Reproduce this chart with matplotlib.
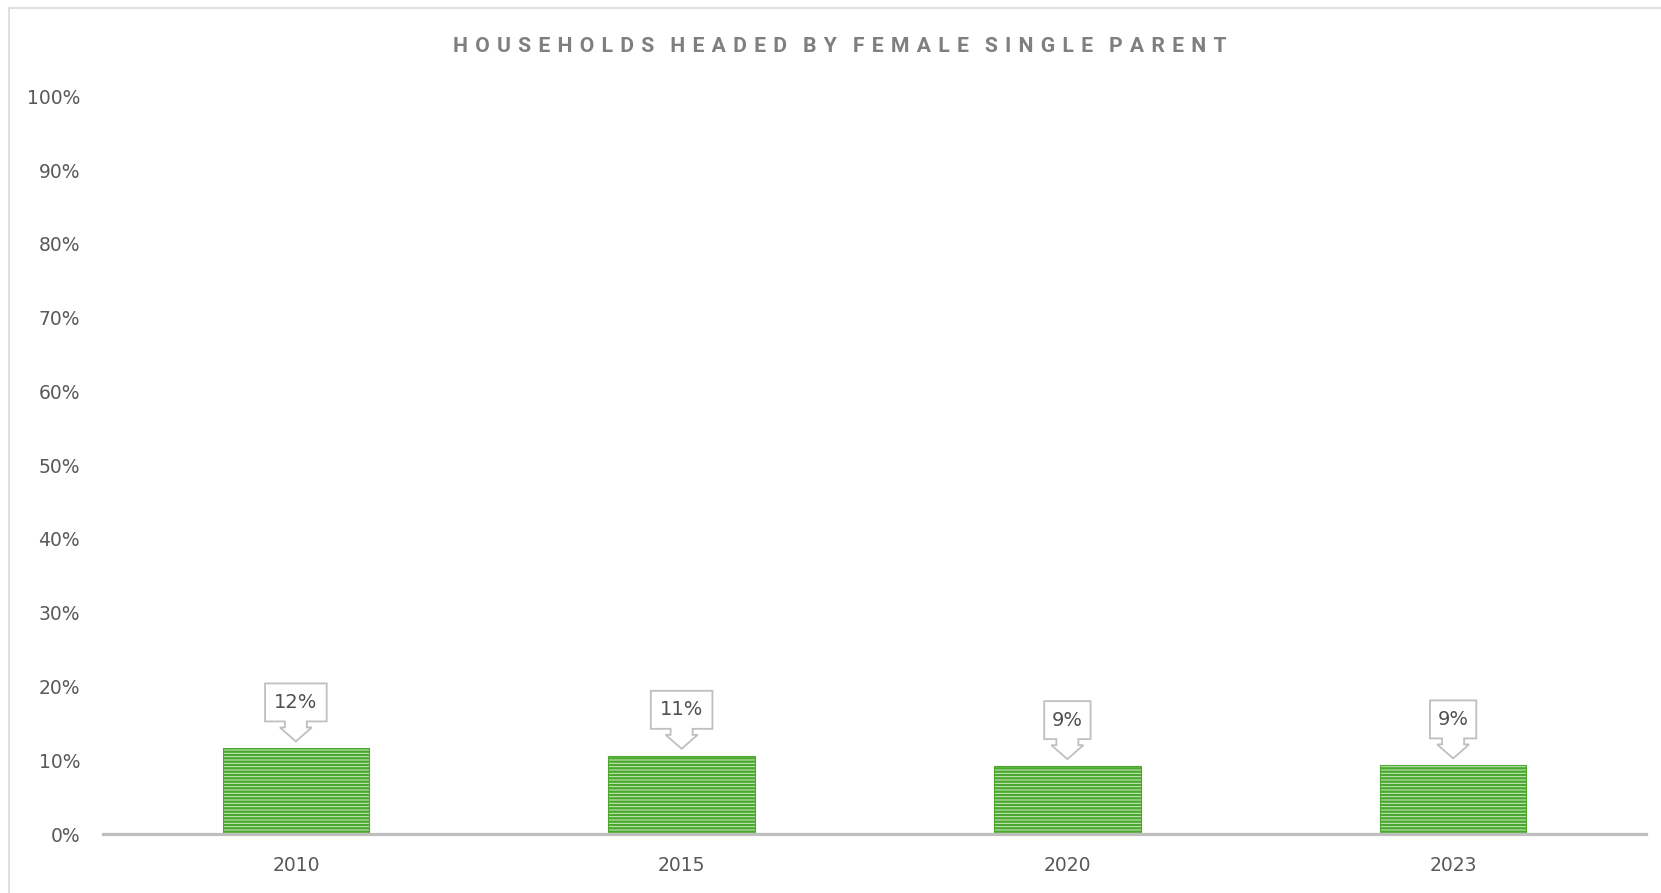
#!/usr/bin/env python3

import matplotlib
matplotlib.use('Agg')
from matplotlib import pyplot as plt
from matplotlib.patches import Polygon, Rectangle
from matplotlib.transforms import ScaledTranslation
import numpy as np

years = ['2010', '2015', '2020', '2023']
shares = [11.6, 10.6, 9.2, 9.3]   # percent
labels = ['12%', '11%', '9%', '9%']
yticks = np.arange(0, 101, 10)

title = 'HOUSEHOLDS HEADED BY FEMALE SINGLE PARENT'

plt.rcParams['hatch.linewidth'] = 1.7

fig = plt.figure(figsize=(16.61, 8.93), dpi=100)
ax = fig.add_axes([103/1661, 1-834/893, (1646-103)/1661, (834-96.4)/893])

x = np.arange(len(years))
ax.bar(x, shares, width=0.38, color='#d2ecc6', edgecolor='#4aa82e',
       hatch='-----', linewidth=0.8, zorder=2)

ax.set_xlim(-0.5, len(years) - 0.5)
ax.set_ylim(0, 100)
ax.set_yticks(yticks)
ax.set_yticklabels(['%d%%' % t for t in yticks])
ax.set_xticks(x)
ax.set_xticklabels(years)
ax.tick_params(axis='y', length=0, pad=16.5, labelsize=13.5, labelcolor='#595959')
ax.tick_params(axis='x', length=0, pad=15.5, labelsize=13.5, labelcolor='#595959')
for s in ['top', 'right', 'left']:
    ax.spines[s].set_visible(False)
ax.spines['bottom'].set_color('#bfbfbf')
ax.spines['bottom'].set_linewidth(2.3)
ax.spines['bottom'].set_zorder(3)

# callout boxes with down arrow, sizes in pixels above the bar top
for xi, v, lab in zip(x, shares, labels):
    hw = 8 + 7.6 * len(lab)
    shaft, head = 11, 16
    pts = [(-shaft, 27), (-hw, 27), (-hw, 65), (hw, 65), (hw, 27), (shaft, 27),
           (shaft, 21), (head, 21), (0, 7), (-head, 21), (-shaft, 21)]
    tr = ScaledTranslation(xi, v, ax.transData)
    ax.add_patch(Polygon(pts, closed=True, transform=tr, facecolor='white',
                         edgecolor='#bfbfbf', linewidth=1.3, zorder=4,
                         clip_on=False))
    ax.annotate(lab, xy=(xi, v), xytext=(0, 46*0.72), textcoords='offset points',
                ha='center', va='center', fontsize=14, color='#505050',
                zorder=5)

# letter spaced title
sp = '\u2004'
wsp = '\u2005'
spaced = (wsp + ' ' + wsp).join(sp.join(w) for w in title.split(' '))
fig.text(840/1661, 1-46/893, spaced, ha='center', va='center',
         fontsize=15.2, fontweight='bold', color='#7f7f7f',
         family=['Roboto', 'DejaVu Sans'])

# outer chart frame (cropped at right and bottom)
fig.patches.append(Rectangle((9/1661, -0.1), 1.2, 1-8/893+0.1,
                             transform=fig.transFigure, fill=False,
                             edgecolor='#d9d9d9', linewidth=1.2))

fig.savefig('out.png', dpi=100)
plt.close()
